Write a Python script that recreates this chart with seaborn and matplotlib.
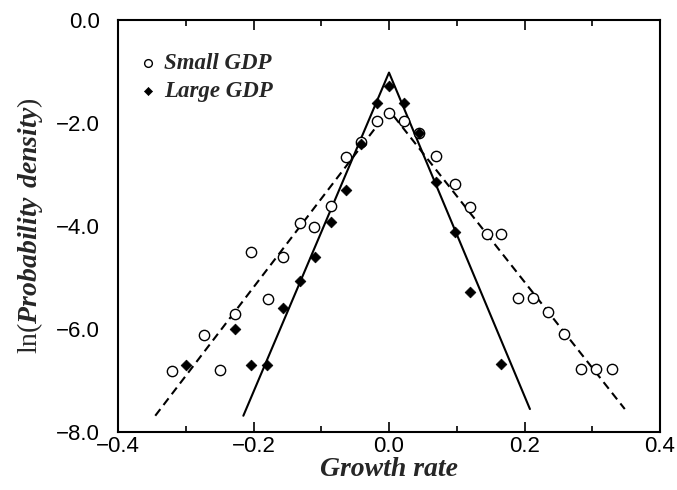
import matplotlib
matplotlib.use("Agg")
import matplotlib.pyplot as plt
import seaborn as sns
import pandas as pd
from matplotlib.ticker import MultipleLocator, FuncFormatter

sns.set_style("white")
plt.rcParams['font.family'] = ['Liberation Sans', 'DejaVu Sans']
plt.rcParams['mathtext.fontset'] = 'custom'
plt.rcParams['mathtext.rm'] = 'Liberation Serif'
plt.rcParams['mathtext.bfit'] = 'Liberation Serif:bold:italic'

# Small GDP (open circles)
small_x = [-0.321, -0.273, -0.249, -0.227, -0.203, -0.179, -0.156, -0.132, -0.110, -0.086,
           -0.064, -0.041, -0.017, 0.000, 0.022, 0.045, 0.069, 0.097, 0.120, 0.144,
           0.166, 0.190, 0.212, 0.235, 0.259, 0.283, 0.305, 0.329]
small_y = [-6.82, -6.12, -6.81, -5.71, -4.50, -5.42, -4.60, -3.95, -4.02, -3.61,
           -2.66, -2.36, -1.96, -1.80, -1.96, -2.19, -2.64, -3.18, -3.64, -4.15,
           -4.15, -5.40, -5.40, -5.68, -6.10, -6.78, -6.78, -6.78]

# Large GDP (filled diamonds)
large_x = [-0.299, -0.227, -0.203, -0.180, -0.156, -0.132, -0.109, -0.086, -0.064, -0.041,
           -0.018, 0.000, 0.022, 0.045, 0.069, 0.097, 0.120, 0.166]
large_y = [-6.70, -6.00, -6.70, -6.70, -5.59, -5.07, -4.60, -3.92, -3.31, -2.41,
           -1.62, -1.28, -1.62, -2.19, -3.14, -4.11, -5.29, -6.69]

# Fitted exponential (tent) lines
fit_small_x = [-0.345, 0.0, 0.348]
fit_small_y = [-7.69, -1.75, -7.56]
fit_large_x = [-0.215, 0.0, 0.208]
fit_large_y = [-7.69, -1.02, -7.56]

df_small = pd.DataFrame({"x": small_x, "y": small_y})
df_large = pd.DataFrame({"x": large_x, "y": large_y})
df_fs = pd.DataFrame({"x": fit_small_x, "y": fit_small_y})
df_fl = pd.DataFrame({"x": fit_large_x, "y": fit_large_y})

fig = plt.figure(figsize=(6.77, 4.90), dpi=100)
ax = fig.add_axes([0.1743, 0.119, 0.8006, 0.840])

sns.lineplot(data=df_fs, x="x", y="y", ax=ax, color="black", lw=1.5,
             linestyle=(0, (4, 2.5)), legend=False, sort=False)
sns.lineplot(data=df_fl, x="x", y="y", ax=ax, color="black", lw=1.5,
             legend=False, sort=False)
sns.scatterplot(data=df_small, x="x", y="y", ax=ax, marker="o", s=55,
                facecolor="white", edgecolor="black", linewidth=1.0,
                label="Small GDP", zorder=3)
sns.scatterplot(data=df_large, x="x", y="y", ax=ax, marker="D", s=30,
                color="black", edgecolor="black", linewidth=0.5,
                label="Large GDP", zorder=4)

ax.set_xlim(-0.4, 0.4)
ax.set_ylim(-8.0, 0.0)
ax.xaxis.set_major_locator(MultipleLocator(0.2))
ax.xaxis.set_minor_locator(MultipleLocator(0.1))
ax.yaxis.set_major_locator(MultipleLocator(2.0))
fmt = FuncFormatter(lambda v, p: ("%.1f" % v).replace("-", "\u2212") if abs(v) > 1e-9 else "0.0")
ax.xaxis.set_major_formatter(fmt)
ax.yaxis.set_major_formatter(fmt)

ax.tick_params(axis="x", which="both", direction="in", top=True, bottom=True,
               labelsize=16, pad=3, width=1.2, colors="black")
ax.tick_params(axis="x", which="major", length=7)
ax.tick_params(axis="x", which="minor", length=4)
ax.tick_params(axis="y", which="both", length=0, labelsize=16, pad=13, colors="black")

for sp in ax.spines.values():
    sp.set_linewidth(1.5)
    sp.set_color("black")

ax.set_xlabel("Growth rate", fontfamily="Liberation Serif", fontweight="bold",
              fontstyle="italic", fontsize=20, labelpad=0)
ax.set_ylabel(r"$\mathrm{ln(}\mathbfit{Probability\ density}\mathrm{)}$",
              fontsize=20, labelpad=8)

leg = ax.legend(loc="upper left", bbox_to_anchor=(0.0, 0.96), frameon=False,
                prop={"family": "Liberation Serif", "weight": "bold",
                      "style": "italic", "size": 16.5},
                handletextpad=0.1, labelspacing=0.3, borderaxespad=0.3,
                handlelength=1.2, markerscale=0.75)

fig.savefig("out.png", dpi=100)
